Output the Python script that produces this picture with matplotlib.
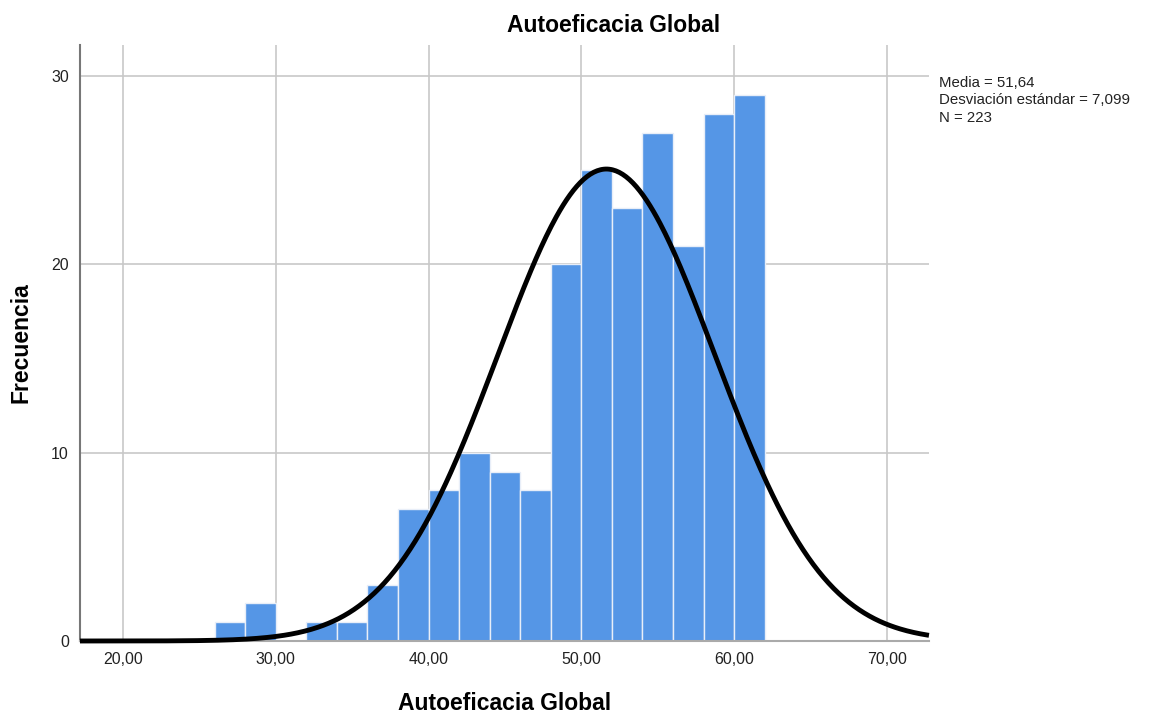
import matplotlib

matplotlib.use("Agg")
import matplotlib.pyplot as plt
import numpy as np

plt.rcParams["font.family"] = ["Liberation Sans", "DejaVu Sans"]

# histogram bins (width 2) and counts
bin_edges = np.arange(26, 64, 2)
counts = [1, 2, 0, 1, 1, 3, 7, 8, 10, 9, 8, 20, 25, 23, 27, 21, 28, 29]
mean = 51.64
sd = 7.099
n = 223

x_ticks = [20, 30, 40, 50, 60, 70]
x_tick_labels = ["20,00", "30,00", "40,00", "50,00", "60,00", "70,00"]
y_ticks = [0, 10, 20, 30]

fig = plt.figure(figsize=(11.54, 7.15), dpi=100)
ax = fig.add_axes([0.0693, 0.1035, 0.7357, 0.8335])

ax.set_xlim(17.19, 72.75)
ax.set_ylim(0, 31.65)

ax.set_xticks(x_ticks)
ax.set_xticklabels(x_tick_labels, fontsize=11.5, color="#222222")
ax.set_yticks(y_ticks)
ax.set_yticklabels([str(v) for v in y_ticks], fontsize=11.5, color="#222222")
ax.tick_params(length=0, pad=8)
ax.grid(True, color="#c8c8c8", linewidth=1.2)
ax.set_axisbelow(True)

ax.bar(bin_edges[:-1], counts, width=2, align="edge", color="#5596e6",
       edgecolor="#e8eef8", linewidth=1.0, zorder=2)

# normal curve scaled to counts
xs = np.linspace(17.19, 72.75, 500)
ys = n * 2 / (sd * np.sqrt(2 * np.pi)) * np.exp(-0.5 * ((xs - mean) / sd) ** 2)
ax.plot(xs, ys, color="black", linewidth=3.5, zorder=3, clip_on=False,
        solid_capstyle="butt")

for s in ["top", "right"]:
    ax.spines[s].set_visible(False)
ax.spines["left"].set_color("#777777")
ax.spines["left"].set_linewidth(1.5)
ax.spines["bottom"].set_color("#aaaaaa")
ax.spines["bottom"].set_linewidth(1.5)

fig.text(614 / 1154, 1 - 25 / 715, "Autoeficacia Global", fontsize=16.5,
         fontweight="bold", ha="center", va="center")
fig.text(505 / 1154, 1 - 703 / 715, "Autoeficacia Global", fontsize=16.5,
         fontweight="bold", ha="center", va="center")
fig.text(21 / 1154, 1 - 343 / 715, "Frecuencia", fontsize=16.5,
         fontweight="bold", ha="center", va="center", rotation=90)

fig.text(939 / 1154, 1 - 76 / 715, "Media = 51,64\nDesviación estándar = 7,099\nN = 223",
         fontsize=10.8, va="top", ha="left", linespacing=1.3, color="#222222")

plt.savefig("out.png")
